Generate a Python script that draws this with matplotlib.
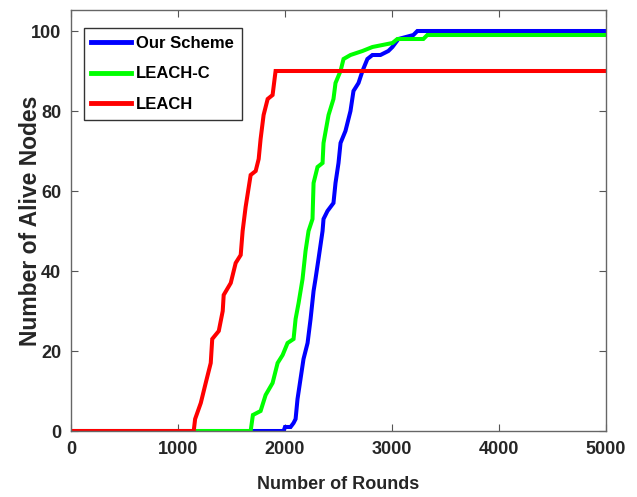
import matplotlib
matplotlib.use("Agg")
import matplotlib.pyplot as plt

# ---- data (curve vertices: round, alive nodes) ----
ours_rounds = [0, 1987, 2000, 2052, 2080, 2099, 2117, 2145, 2173, 2211, 2239, 2267, 2285, 2313,
               2351, 2360, 2397, 2453, 2472, 2500, 2519, 2565, 2612, 2640, 2687, 2724, 2770,
               2817, 2892, 2966, 3004, 3032, 3060, 3200, 3237, 5000]
ours_alive = [0, 0, 1, 1, 2, 3, 8, 13, 18, 22, 28, 35, 38, 43,
              50, 53, 55, 57, 62, 67, 72, 75, 80, 85, 87, 90, 93,
              94, 94, 95, 96, 97, 98, 99, 100, 100]

leachc_rounds = [0, 1679, 1700, 1772, 1819, 1884, 1931, 1978, 2024, 2080, 2099, 2127, 2164,
                 2192, 2220, 2257, 2267, 2304, 2351, 2360, 2407, 2453, 2472, 2519, 2547,
                 2612, 2724, 2817, 3004, 3050, 3293, 3330, 5000]
leachc_alive = [0, 0, 4, 5, 9, 12, 17, 19, 22, 23, 28, 32, 38,
                45, 50, 53, 62, 66, 67, 72, 79, 83, 87, 90, 93,
                94, 95, 96, 97, 98, 98, 99, 99]

leach_rounds = [0, 1147, 1160, 1213, 1259, 1306, 1320, 1381, 1418, 1427, 1493,
                1539, 1586, 1604, 1632, 1679, 1726, 1754, 1772, 1800, 1838, 1884, 1912, 5000]
leach_alive = [0, 0, 3, 7, 12, 17, 23, 25, 30, 34, 37,
               42, 44, 50, 56, 64, 65, 68, 73, 79, 83, 84, 90, 90]

series_names = ["Our Scheme", "LEACH-C", "LEACH"]
x_ticks = [0, 1000, 2000, 3000, 4000, 5000]
y_ticks = [0, 20, 40, 60, 80, 100]

plt.rcParams['font.family'] = ['Liberation Sans', 'DejaVu Sans']
plt.rcParams['font.weight'] = 'bold'

fig = plt.figure(figsize=(6.37, 4.97), dpi=100)
ax = fig.add_axes([71/637, 66/497, 535/637, 421/497])

ax.plot(ours_rounds, ours_alive, color='#0000ff', lw=2.9, label=series_names[0],
        solid_joinstyle='miter')
ax.plot(leachc_rounds, leachc_alive, color='#00ff00', lw=2.9, label=series_names[1],
        solid_joinstyle='miter')
ax.plot(leach_rounds, leach_alive, color='#ff0000', lw=2.9, label=series_names[2],
        solid_joinstyle='miter')

ax.set_xlim(0, 5000)
ax.set_ylim(0, 105.25)
ax.set_xticks(x_ticks)
ax.set_yticks(y_ticks)
ax.tick_params(direction='in', top=True, right=True, length=5, width=0.8,
               colors='#555555', labelcolor='#262626', labelsize=13, pad=7)
for lbl in ax.get_xticklabels() + ax.get_yticklabels():
    lbl.set_fontweight('bold')
for sp in ax.spines.values():
    sp.set_color('#666666')
    sp.set_linewidth(1.0)

ax.set_xlabel("Number of Rounds", fontsize=13, fontweight='bold', color='#262626')
ax.xaxis.set_label_coords(0.5, -0.107)
ax.set_ylabel("Number of Alive Nodes", fontsize=16.5, fontweight='bold', color='#262626')
ax.yaxis.set_label_coords(-0.055, 0.5)

leg = ax.legend(loc='upper left', bbox_to_anchor=(0.024, 0.957), borderaxespad=0,
                fancybox=False, framealpha=1, edgecolor='#333333', fontsize=12,
                handlelength=2.4, handletextpad=0.3, borderpad=0.45, labelspacing=0.95)
leg.get_frame().set_linewidth(1.0)
for t in leg.get_texts():
    t.set_fontweight('bold')
for h in leg.get_lines():
    h.set_linewidth(3.5)

fig.savefig("out.png", dpi=100)
